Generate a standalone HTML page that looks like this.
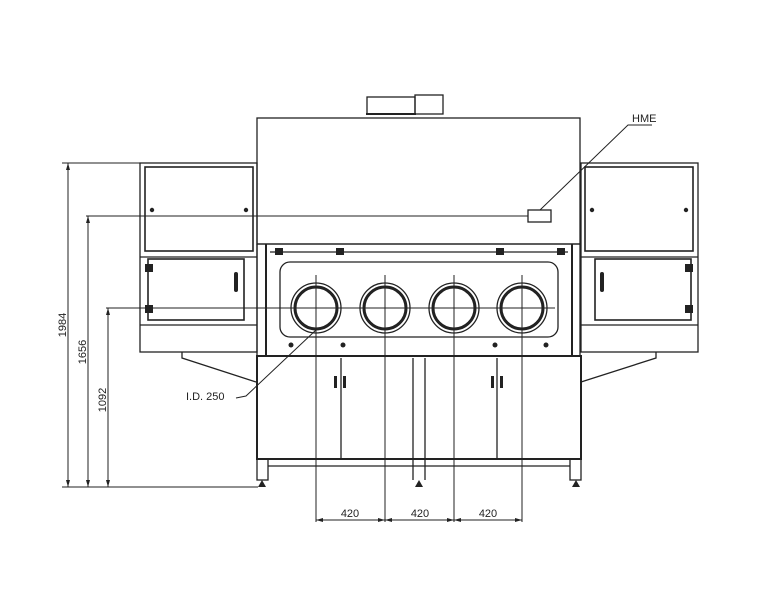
<!DOCTYPE html>
<html><head><meta charset="utf-8"><style>
html,body{margin:0;padding:0;background:#fff;}
svg{display:block;}
text{font-family:"Liberation Sans",sans-serif;font-size:11px;fill:#222;}
</style></head><body>
<svg width="763" height="590" viewBox="0 0 763 590" xmlns="http://www.w3.org/2000/svg">
<g fill="none" stroke="#222" stroke-width="1.3">
<!-- top units -->
<rect x="367" y="97" width="48" height="17"/>
<rect x="415" y="95" width="28" height="19"/>
<line x1="366" y1="114" x2="416" y2="114" stroke-width="2"/>
<!-- top hood -->
<rect x="257" y="118" width="323" height="126"/>
<line x1="257" y1="244" x2="580" y2="244"/>
<rect x="528" y="210" width="23" height="12"/>
<!-- window body -->
<line x1="266" y1="244" x2="266" y2="356" stroke-width="2"/>
<line x1="572" y1="244" x2="572" y2="356" stroke-width="2"/>
<line x1="270" y1="252" x2="568" y2="252"/>
<rect x="280" y="262" width="278" height="75" rx="10"/>
<line x1="257" y1="356" x2="581" y2="356" stroke-width="2"/>
<line x1="257" y1="244" x2="257" y2="356"/>
<line x1="580" y1="244" x2="580" y2="356"/>
<!-- circles -->
<g>
<circle cx="316" cy="308" r="25"/><circle cx="316" cy="308" r="21" stroke-width="3"/>
<circle cx="385" cy="308" r="25"/><circle cx="385" cy="308" r="21" stroke-width="3"/>
<circle cx="454" cy="308" r="25"/><circle cx="454" cy="308" r="21" stroke-width="3"/>
<circle cx="522" cy="308" r="25"/><circle cx="522" cy="308" r="21" stroke-width="3"/>
</g>
<!-- lower cabinet -->
<rect x="257" y="356" width="324" height="103" stroke-width="2"/>
<line x1="341" y1="358" x2="341" y2="459"/>
<line x1="497" y1="358" x2="497" y2="459"/>
<line x1="413" y1="358" x2="413" y2="480"/>
<line x1="425" y1="358" x2="425" y2="480"/>
<line x1="268" y1="466" x2="570" y2="466"/>
<rect x="257" y="459" width="11" height="21"/>
<rect x="570" y="459" width="11" height="21"/>
<!-- left side -->
<rect x="140" y="163" width="117" height="189"/>
<rect x="145" y="167" width="108" height="84" stroke-width="1.6"/>
<line x1="140" y1="257" x2="257" y2="257"/>
<rect x="148" y="259" width="96" height="61" stroke-width="1.6"/>
<line x1="140" y1="325" x2="257" y2="325"/>
<polyline points="182,352 182,358 256,382"/>
<!-- right side -->
<rect x="581" y="163" width="117" height="189"/>
<rect x="585" y="167" width="108" height="84" stroke-width="1.6"/>
<line x1="581" y1="257" x2="698" y2="257"/>
<rect x="595" y="259" width="96" height="61" stroke-width="1.6"/>
<line x1="581" y1="325" x2="698" y2="325"/>
<polyline points="656,352 656,358 581,382"/>
<!-- center lines -->
<g stroke-width="1">
<line x1="316" y1="275" x2="316" y2="522"/>
<line x1="385" y1="275" x2="385" y2="522"/>
<line x1="454" y1="275" x2="454" y2="522"/>
<line x1="522" y1="275" x2="522" y2="522"/>
<line x1="285" y1="308" x2="555" y2="308"/>
<!-- dimensions -->
<line x1="62" y1="163" x2="140" y2="163"/>
<line x1="86" y1="216" x2="528" y2="216"/>
<line x1="106" y1="308" x2="290" y2="308"/>
<line x1="62" y1="487" x2="258" y2="487"/>
<line x1="68" y1="163" x2="68" y2="487"/>
<line x1="88" y1="216" x2="88" y2="487"/>
<line x1="108" y1="308" x2="108" y2="487"/>
<line x1="316" y1="520" x2="522" y2="520"/>
<polyline points="540,210 628,125 652,125"/>
<polyline points="236,398 246,396 316,330"/>
</g>
</g>
<g fill="#222">
<circle cx="152" cy="210" r="2.2"/><circle cx="246" cy="210" r="2.2"/>
<circle cx="592" cy="210" r="2.2"/><circle cx="686" cy="210" r="2.2"/>
<circle cx="291" cy="345" r="2.5"/><circle cx="343" cy="345" r="2.5"/>
<circle cx="495" cy="345" r="2.5"/><circle cx="546" cy="345" r="2.5"/>
<rect x="275" y="248" width="8" height="7"/><rect x="336" y="248" width="8" height="7"/>
<rect x="496" y="248" width="8" height="7"/><rect x="557" y="248" width="8" height="7"/>
<rect x="145" y="264" width="8" height="8"/><rect x="145" y="305" width="8" height="8"/>
<rect x="685" y="264" width="8" height="8"/><rect x="685" y="305" width="8" height="8"/>
<rect x="234" y="272" width="4" height="20" rx="2"/><rect x="600" y="272" width="4" height="20" rx="2"/>
<rect x="334" y="376" width="3" height="12"/><rect x="343" y="376" width="3" height="12"/>
<rect x="491" y="376" width="3" height="12"/><rect x="500" y="376" width="3" height="12"/>
<path d="M262 480 L258 487 L266 487Z"/><path d="M419 480 L415 487 L423 487Z"/><path d="M576 480 L572 487 L580 487Z"/>
<path d="M68 163 l-2 7 h4Z"/><path d="M68 487 l-2 -7 h4Z"/>
<path d="M88 216 l-2 7 h4Z"/><path d="M88 487 l-2 -7 h4Z"/>
<path d="M108 308 l-2 7 h4Z"/><path d="M108 487 l-2 -7 h4Z"/>
<path d="M316 520 l7 -2 v4Z"/><path d="M385 520 l-7 -2 v4Z"/><path d="M385 520 l7 -2 v4Z"/>
<path d="M454 520 l-7 -2 v4Z"/><path d="M454 520 l7 -2 v4Z"/><path d="M522 520 l-7 -2 v4Z"/>
</g>
<text x="350" y="517" text-anchor="middle">420</text>
<text x="420" y="517" text-anchor="middle">420</text>
<text x="488" y="517" text-anchor="middle">420</text>
<text x="632" y="122" font-size="10">HME</text>
<text x="186" y="400" font-size="10">I.D. 250</text>
<text transform="translate(66,325) rotate(-90)" text-anchor="middle">1984</text>
<text transform="translate(86,352) rotate(-90)" text-anchor="middle">1656</text>
<text transform="translate(106,400) rotate(-90)" text-anchor="middle">1092</text>
</svg>
</body></html>
